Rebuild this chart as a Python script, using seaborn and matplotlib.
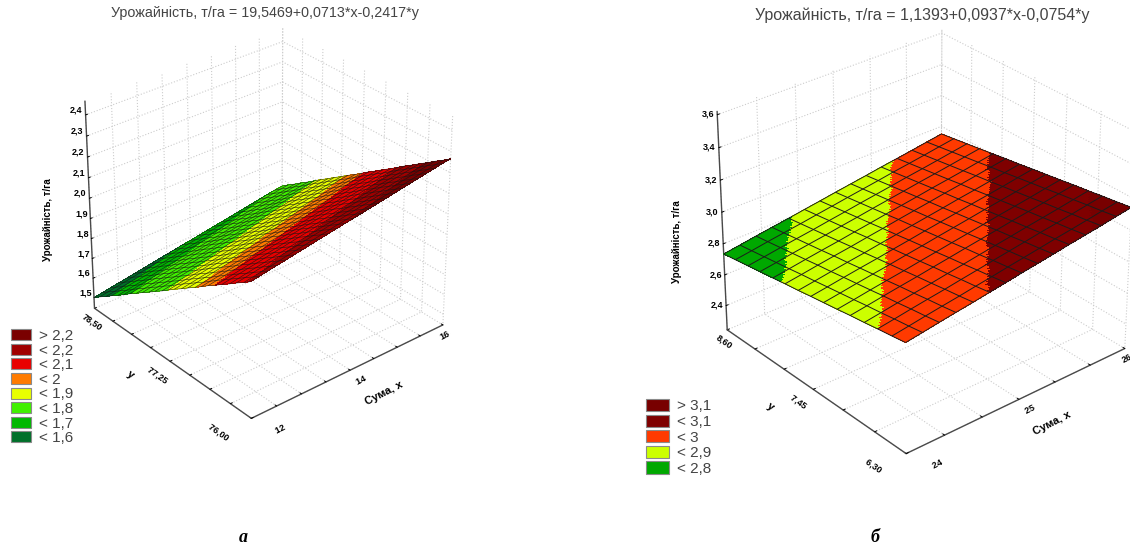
"""Two regression planes of crop yield, drawn as coloured 3D surfaces."""

import numpy as np
import seaborn as sns
import matplotlib
matplotlib.use('Agg')
import matplotlib.pyplot as plt
from matplotlib.colors import BoundaryNorm, ListedColormap
from matplotlib.patches import Patch

FIG_W, FIG_H = 1130, 547

# Panel a
title_a = 'Урожайність, т/га = 19,5469+0,0713*x-0,2417*y'
x_mesh_a = [12.00, 12.17, 12.33, 12.50, 12.67, 12.83, 13.00, 13.17, 13.33, 13.50, 13.67, 13.83, 14.00,
            14.17, 14.33, 14.50, 14.67, 14.83, 15.00, 15.17, 15.33, 15.50, 15.67, 15.83, 16.00]
y_mesh_a = [76.00, 76.10, 76.21, 76.31, 76.42, 76.52, 76.63, 76.73, 76.83, 76.94, 77.04, 77.15, 77.25,
            77.35, 77.46, 77.56, 77.67, 77.77, 77.88, 77.98, 78.08, 78.19, 78.29, 78.40, 78.50]
z_along_y_a = [2.100, 2.075, 2.050, 2.025, 2.000, 1.975, 1.950, 1.925, 1.900, 1.875, 1.850, 1.825, 1.800,
               1.775, 1.750, 1.725, 1.700, 1.675, 1.650, 1.625, 1.600, 1.575, 1.550, 1.525, 1.500]
z_gain_x_a = [0.000, 0.007, 0.014, 0.021, 0.028, 0.035, 0.042, 0.049, 0.056, 0.063, 0.070, 0.077, 0.083,
              0.090, 0.097, 0.104, 0.111, 0.118, 0.125, 0.132, 0.139, 0.146, 0.153, 0.160, 0.165]
levels_a = [1.0, 1.58, 1.66, 1.80, 1.91, 1.975, 2.09, 2.18, 3.0]
colors_a = ['#00702a', '#00b800', '#40f000', '#e8ff00', '#ff7b00', '#e80000', '#a00000', '#7a0000']
legend_a = ['> 2,2', '< 2,2', '< 2,1', '< 2', '< 1,9', '< 1,8', '< 1,7', '< 1,6']
zlim_a = (1.445, 2.465)
z_ticks_a = [1.50, 1.60, 1.70, 1.80, 1.90, 2.00, 2.10, 2.20, 2.30, 2.40]
z_labels_a = ['1,5', '1,6', '1,7', '1,8', '1,9', '2,0', '2,1', '2,2', '2,3', '2,4']
x_ticks_a = [12, 12.5, 13, 13.5, 14, 14.5, 15, 15.5, 16]
x_labels_a = ['         12', '', '', '', '        14', '', '', '', '16']
y_ticks_a = [76, 76.3125, 76.625, 76.9375, 77.25, 77.5625, 77.875, 78.1875, 78.5]
y_labels_a = ['76,00         ', '', '', '', '77,25          ', '', '', '', '78,50']

# Panel b
title_b = 'Урожайність, т/га = 1,1393+0,0937*x-0,0754*y'
x_mesh_b = [24.00, 24.17, 24.34, 24.51, 24.69, 24.86, 25.03, 25.20, 25.37, 25.54, 25.71, 25.89, 26.06, 26.23, 26.40]
y_mesh_b = [6.30, 6.46, 6.63, 6.79, 6.96, 7.12, 7.29, 7.45, 7.61, 7.78, 7.94, 8.11, 8.27, 8.44, 8.60]
z_along_y_b = [2.925, 2.911, 2.898, 2.884, 2.871, 2.857, 2.843, 2.830, 2.816, 2.803, 2.789, 2.775, 2.762, 2.748, 2.735]
z_gain_x_b = [0.000, 0.015, 0.031, 0.046, 0.061, 0.077, 0.092, 0.108, 0.123, 0.138, 0.154, 0.169, 0.184, 0.200, 0.215]
levels_b = [2.0, 2.8, 2.9, 3.0, 3.1, 4.0]
colors_b = ['#00a800', '#ccff00', '#ff3a00', '#7f0000', '#780000']
legend_b = ['> 3,1', '< 3,1', '< 3', '< 2,9', '< 2,8']
zlim_b = (2.24, 3.62)
z_ticks_b = [2.4, 2.6, 2.8, 3.0, 3.2, 3.4, 3.6]
z_labels_b = ['2,4', '2,6', '2,8', '3,0', '3,2', '3,4', '3,6']
x_ticks_b = [24, 24.4, 24.8, 25.2, 25.6, 26.0, 26.4]
x_labels_b = ['          24', '', '', '        25', '', '', '26']
y_ticks_b = [6.3, 6.68, 7.07, 7.45, 7.83, 8.22, 8.6]
y_labels_b = ['6,30          ', '', '', '7,45            ', '', '', '8,60']

sns.set_theme(style='white')
plt.rcParams['font.family'] = ['Liberation Sans', 'DejaVu Sans']


def refine(nodes, n):
    """Split each mesh step so that the colour bands get straight edges."""
    nodes = np.asarray(nodes)
    return np.interp(np.linspace(0, len(nodes) - 1, n * (len(nodes) - 1) + 1), np.arange(len(nodes)), nodes)


def plot_panel(fig, box, view, z_aspect, x_mesh, y_mesh, z_along_y, z_gain_x, levels, colors, zlim, ticks,
               mesh_style, z_va='center'):
    """Draw one surface in a square 3D axes placed by pixel box."""

    left, top, size = box
    ax = fig.add_axes([left / FIG_W, 1 - (top + size) / FIG_H, size / FIG_W, size / FIG_H],
                      projection='3d', computed_zorder=False)
    ax.patch.set_alpha(0)
    ax.set_box_aspect((1, 1, z_aspect))
    ax.view_init(elev=view[0], azim=view[1])
    ax.set_proj_type('persp', focal_length=1)

    # Colour by band on a finer copy of the mesh, then lay the mesh lines on top
    xf, yf = refine(x_mesh, 6), refine(y_mesh, 6)
    Zf = np.add.outer(refine(z_along_y, 6), refine(z_gain_x, 6))
    Xf, Yf = np.meshgrid(xf, yf)
    cmap = ListedColormap(sns.color_palette(colors))
    norm = BoundaryNorm(levels, cmap.N)
    zc = 0.25 * (Zf[:-1, :-1] + Zf[1:, :-1] + Zf[:-1, 1:] + Zf[1:, 1:])
    ax.plot_surface(Xf, Yf, Zf, facecolors=cmap(norm(zc)), rstride=1, cstride=1, shade=False,
                    linewidth=0, antialiased=False, zorder=2)

    X, Y = np.meshgrid(x_mesh, y_mesh)
    Z = np.add.outer(z_along_y, z_gain_x)
    ax.plot_wireframe(X, Y, Z, rstride=1, cstride=1, zorder=3, **mesh_style)

    ax.set_xlim(x_mesh[0], x_mesh[-1])
    ax.set_ylim(y_mesh[0], y_mesh[-1])
    ax.set_zlim(*zlim)

    (x_t, x_l), (y_t, y_l), (z_t, z_l) = ticks
    ax.set_xticks(x_t, x_l)
    ax.set_yticks(y_t, y_l)
    ax.set_zticks(z_t, z_l)

    for axis in (ax.xaxis, ax.yaxis, ax.zaxis):
        axis.set_pane_color((1, 1, 1, 0))
        axis.pane.set_edgecolor('#cccccc')
        axis.pane.set_linestyle(':')
        axis.pane.set_linewidth(0.8)
        axis.line.set_color('#4a4a4a')
        axis.line.set_linewidth(1.0)
        axis._axinfo['grid'].update(color='#cccccc', linewidth=0.8, linestyle=':')
        axis._axinfo['tick'].update(inward_factor=0.0, outward_factor=0.12)
        axis._axinfo['tick']['linewidth'] = {True: 0.7, False: 0.5}

    ax.tick_params(axis='both', colors='black', labelsize=6.5, length=2)
    for lab in ax.get_xticklabels() + ax.get_yticklabels() + ax.get_zticklabels():
        lab.set_fontweight('bold')
    for lab in ax.get_xticklabels():
        lab.set_rotation(27)
    for lab in ax.get_yticklabels():
        lab.set_rotation(-35)
    for lab in ax.get_zticklabels():
        lab.set_va(z_va)
    # End labels sit off to the side of the front corner
    ax.get_xticklabels()[0].set_ha('left')
    ax.get_yticklabels()[0].set_ha('right')
    ax.tick_params(axis='x', pad=-6)
    ax.tick_params(axis='y', pad=-6)
    ax.tick_params(axis='z', pad=-4)
    return ax


def add_axis_titles(fig, x_pos, y_pos, z_pos):
    """Axis titles placed by pixel, as they sit away from the axis middles."""
    style = dict(ha='center', va='center', fontweight='bold', color='black')
    fig.text(x_pos[0] / FIG_W, 1 - x_pos[1] / FIG_H, 'Сума, x', fontsize=8, rotation=27, **style)
    fig.text(y_pos[0] / FIG_W, 1 - y_pos[1] / FIG_H, 'y', fontsize=8, rotation=-35, **style)
    fig.text(z_pos[0] / FIG_W, 1 - z_pos[1] / FIG_H, 'Урожайність, т/га', fontsize=7, rotation=90, **style)


def add_legend(fig, labels, colors, anchor, pitch, handle):
    """Colour key, top class first."""
    handles = [Patch(facecolor=c, edgecolor='#8a8a8a', linewidth=0.8) for c in colors[::-1]]
    fig.legend(handles, labels, loc='upper left', frameon=False, fontsize=11, labelcolor='#444444',
               bbox_to_anchor=(anchor[0] / FIG_W, 1 - anchor[1] / FIG_H), borderpad=0, borderaxespad=0,
               handlelength=handle[0], handleheight=handle[1], handletextpad=0.55, labelspacing=pitch)


fig = plt.figure(figsize=(FIG_W / 100, FIG_H / 100), dpi=100, facecolor='white')

ticks_a = ((x_ticks_a, x_labels_a), (y_ticks_a, y_labels_a), (z_ticks_a, z_labels_a))
ticks_b = ((x_ticks_b, x_labels_b), (y_ticks_b, y_labels_b), (z_ticks_b, z_labels_b))

plot_panel(fig, (52, 11, 420), (30.5, -130), 0.95, x_mesh_a, y_mesh_a, z_along_y_a, z_gain_x_a, levels_a, colors_a,
           zlim_a, ticks_a, dict(color='#151515', linewidth=0.45, alpha=0.85), z_va='bottom')
plot_panel(fig, (685, 5, 467), (30, -130), 0.875, x_mesh_b, y_mesh_b, z_along_y_b, z_gain_x_b, levels_b, colors_b,
           zlim_b, ticks_b, dict(color='#1c1c1c', linewidth=0.7))

add_axis_titles(fig, (384, 393), (130, 375), (48, 220))
add_axis_titles(fig, (1052, 423), (770, 407), (677, 242))

add_legend(fig, legend_a, colors_a, (11, 329), 0.04, (1.3, 0.72))
add_legend(fig, legend_b, colors_b, (646, 399), 0.08, (1.5, 0.85))

fig.text(265 / FIG_W, 1 - 13 / FIG_H, title_a, ha='center', va='center', fontsize=10.3, color='#444444')
fig.text(922 / FIG_W, 1 - 15 / FIG_H, title_b, ha='center', va='center', fontsize=11.5, color='#444444')
fig.text(243 / FIG_W, 1 - 537 / FIG_H, 'а', ha='center', va='center', fontsize=13,
         family='Liberation Serif', style='italic', weight='bold', color='black')
fig.text(875 / FIG_W, 1 - 537 / FIG_H, 'б', ha='center', va='center', fontsize=13,
         family='Liberation Serif', style='italic', weight='bold', color='black')

fig.savefig('out.png', dpi=100)
